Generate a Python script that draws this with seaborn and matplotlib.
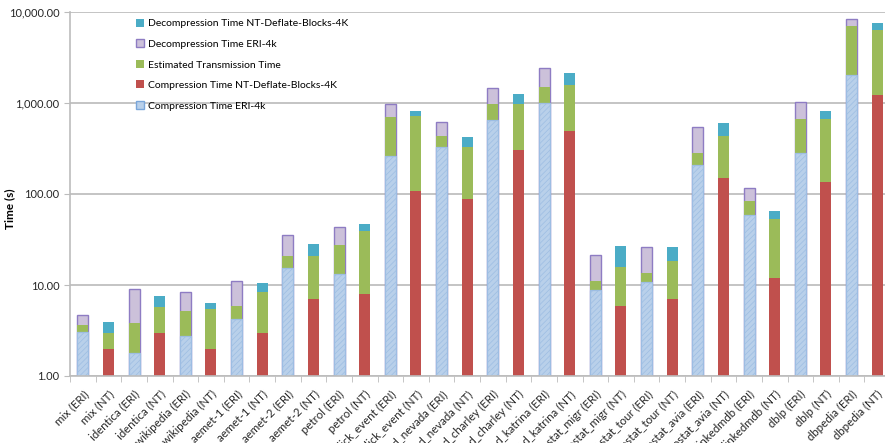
import pandas as pd
import numpy as np
import matplotlib.pyplot as plt
import matplotlib.patches as mpatches
import matplotlib.ticker as mticker
import seaborn as sns

# ──────────────────────────────────────────────
# DADOS (segundos)
# ──────────────────────────────────────────────
datasets = ['mix', 'identica', 'wikipedia', 'aemet-1', 'aemet-2', 'petrol',
            'flick_event', 'lod_nevada', 'lod_charley', 'lod_katrina',
            'eurostat_migr', 'eurostat_tour', 'eurostat_avia', 'linkedmdb',
            'dblp', 'dbpedia']

comp_eri   = [3.05, 1.80, 2.75, 4.26, 15.5, 13.3, 264, 328, 656, 1000,
              8.88, 10.9, 208, 58.8, 284, 2014]
trans_eri  = [0.61, 2.02, 2.43, 1.62, 5.3, 14.0, 438, 109, 311, 500,
              2.19, 2.8, 72, 24.9, 389, 5066]
decomp_eri = [1.06, 5.14, 3.12, 5.09, 14.4, 15.7, 273, 176, 495, 905,
              10.3, 12.2, 261, 31.3, 344, 1295]

comp_nt    = [1.98, 2.94, 1.98, 2.94, 6.96, 7.96, 108.7, 87.5, 305, 489,
              5.93, 6.96, 151, 11.9, 134, 1224]
trans_nt   = [0.96, 2.79, 3.43, 5.44, 13.84, 31.5, 605, 240.5, 670, 1100,
              9.97, 11.44, 279, 40.8, 539, 5116]
decomp_nt  = [1.01, 1.90, 0.98, 2.02, 7.4, 7.0, 103, 98, 290, 547,
              11.1, 7.8, 168, 12.3, 137, 1170]

series_names = ['Decompression Time NT-Deflate-Blocks-4K',
                'Decompression Time ERI-4k',
                'Estimated Transmission Time',
                'Compression Time NT-Deflate-Blocks-4K',
                'Compression Time ERI-4k']

cores = {
    'comp_eri':   '#b9d0ea',
    'comp_nt':    '#c0504d',
    'trans':      '#9bbb59',
    'decomp_eri': '#ccc1da',
    'decomp_nt':  '#4bacc6',
}

# ──────────────────────────────────────────────
# MONTAGEM (barras empilhadas = alturas acumuladas)
# ──────────────────────────────────────────────
linhas = []
for i, d in enumerate(datasets):
    for tipo, c, t, dc in [('ERI', comp_eri[i], trans_eri[i], decomp_eri[i]),
                           ('NT', comp_nt[i], trans_nt[i], decomp_nt[i])]:
        linhas.append({'label': f'{d} ({tipo})', 'tipo': tipo,
                       'comp': c, 'meio': c + t, 'total': c + t + dc})
df = pd.DataFrame(linhas)
ordem = df['label'].tolist()

plt.rcParams['font.family'] = ['Lato', 'DejaVu Sans']
plt.rcParams['hatch.linewidth'] = 0.5

fig = plt.figure(figsize=(8.85, 4.43), dpi=100)
ax = fig.add_axes([70 / 885, 67 / 443, 820 / 885, 364 / 443])
ax.set_yscale('log')

w = 0.43
estilos = {
    'ERI': [('total', cores['decomp_eri'], '#8e7cc3', 1.0, None),
            ('meio', cores['trans'], 'none', 0, None),
            ('comp', cores['comp_eri'], '#7aa6da', 0.9, '//////')],
    'NT':  [('total', cores['decomp_nt'], 'none', 0, None),
            ('meio', cores['trans'], 'none', 0, None),
            ('comp', cores['comp_nt'], 'none', 0, None)],
}
for tipo, camadas in estilos.items():
    sub = df[df['tipo'] == tipo]
    for col, cor, borda, lw, hatch in camadas:
        n0 = len(ax.patches)
        sns.barplot(data=sub, x='label', y=col, order=ordem, color=cor,
                    saturation=1, width=w, errorbar=None,
                    edgecolor=borda, linewidth=lw, ax=ax)
        if hatch:
            for p in ax.patches[n0:]:
                p.set_hatch(hatch)
                p.set_edgecolor('#9dbde3')
                p.set_linewidth(0.9)

ax.set_ylim(1, 10000)
ax.set_xlim(-0.5, 31.5)
ax.yaxis.set_major_locator(mticker.LogLocator(base=10, numticks=10))
ax.yaxis.set_minor_locator(mticker.NullLocator())
ax.yaxis.set_major_formatter(mticker.FuncFormatter(lambda v, p: f'{v:,.2f}'))

ax.grid(axis='y', color='#c4c4c4', linewidth=1.4)
ax.set_axisbelow(True)
for s in ['top', 'right']:
    ax.spines[s].set_visible(False)
for s in ['left', 'bottom']:
    ax.spines[s].set_color('#bcbcbc')
    ax.spines[s].set_linewidth(1.2)

ax.set_xticks(np.arange(len(ordem)))
ax.set_xticklabels(ordem, rotation=45, ha='right', rotation_mode='anchor',
                   fontsize=8.3, color='#262626')
ax.set_xticks(np.arange(-0.5, len(ordem)), minor=True)
ax.tick_params(axis='x', which='major', length=0, pad=9)
ax.tick_params(axis='x', which='minor', length=4, color='#bcbcbc')
ax.tick_params(axis='y', length=4, color='#bcbcbc', labelsize=8,
               labelcolor='#262626')
ax.set_xlabel('')
ax.set_ylabel('Time (s)', fontsize=8.5, fontweight='bold')
ax.yaxis.set_label_coords(-0.067, 0.46)

handles = [
    mpatches.Patch(facecolor=cores['decomp_nt'], edgecolor='none', label=series_names[0]),
    mpatches.Patch(facecolor=cores['decomp_eri'], edgecolor='#8e7cc3', label=series_names[1]),
    mpatches.Patch(facecolor=cores['trans'], edgecolor='none', label=series_names[2]),
    mpatches.Patch(facecolor=cores['comp_nt'], edgecolor='none', label=series_names[3]),
    mpatches.Patch(facecolor=cores['comp_eri'], edgecolor='#7aa6da', label=series_names[4]),
]
ax.legend(handles=handles, loc='upper left', bbox_to_anchor=(0.078, 0.987),
          frameon=False, fontsize=7.5, handlelength=0.8, handleheight=0.8,
          handletextpad=0.35, labelspacing=1.05, borderpad=0.1,
          borderaxespad=0.1)

plt.savefig('out.png', dpi=100)
